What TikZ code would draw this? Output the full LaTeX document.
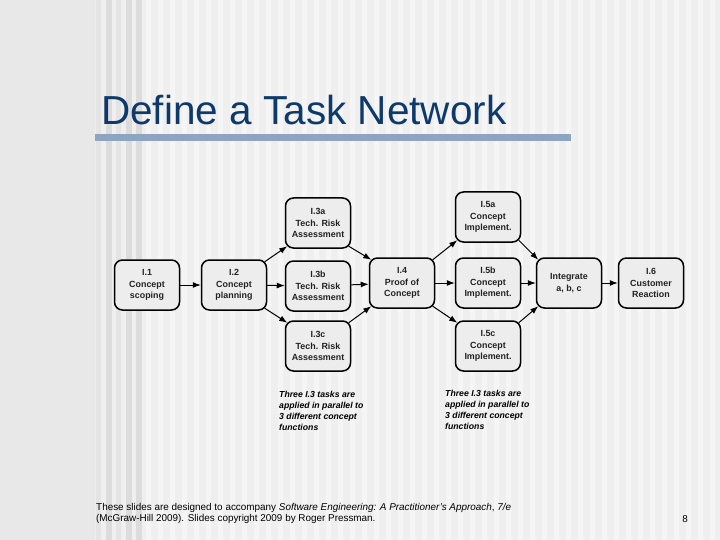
\documentclass[tikz,border=0pt]{standalone}
\usepackage{fontspec}
\setmainfont{Liberation Sans}
\usetikzlibrary{arrows.meta,calc}
\definecolor{bgleft}{HTML}{E8E8E8}
\definecolor{bgmain}{HTML}{EFEFEF}
\definecolor{stripedark}{HTML}{DCDCDC}
\definecolor{stripemid}{HTML}{E4E4E4}
\definecolor{stripelight}{HTML}{F5F5F5}
\definecolor{titleblue}{HTML}{0E3A6B}
\definecolor{barblue}{HTML}{8DA5C1}
\definecolor{boxfill}{HTML}{EDEDED}
\definecolor{boxtext}{HTML}{222222}
\tikzset{
  task/.style={draw=black, line width=1.5pt, rounded corners=8pt, fill=boxfill,
    minimum width=65pt, minimum height=50pt, inner sep=0pt, align=center,
    text=boxtext, font=\fontsize{8.9}{11.5}\selectfont\bfseries},
  conn/.style={line width=1pt, -{Latex[length=8pt,width=6pt]}},
  note/.style={anchor=north west, align=left, inner sep=0pt,
    font=\fontsize{8.7}{11}\selectfont\bfseries\itshape},
}
\begin{document}
\begin{tikzpicture}[x=1pt,y=-1pt]
\useasboundingbox (0,0) rectangle (720,540);
% background
\fill[bgleft] (0,0) rectangle (95,540);
\fill[bgmain] (95,0) rectangle (720,540);
\foreach \a/\b in {96/101,116/121}{\fill[stripemid] (\a,0) rectangle (\b,540);}
\foreach \a/\b in {106/112,126/132,136/142}{\fill[stripedark] (\a,0) rectangle (\b,540);}
\foreach \a in {146,158,...,715}{\fill[stripelight] (\a,0) rectangle (\a+5,540);}
% title
\node[anchor=base west, inner sep=0pt, text=titleblue, font=\fontsize{40.5}{40.5}\selectfont] (title) at (101,125) {Define a Task Network};
\fill[barblue] (95,134) rectangle (571,141);
% tasks
\node[task] (t1) at (147,285) {I.1\\Concept\\scoping};
\node[task] (t2) at (234,285) {I.2\\Concept\\planning};
\node[task] (t3a) at (318,223) {I.3a\\Tech. Risk\\Assessment};
\node[task] (t3b) at (318,286) {I.3b\\Tech. Risk\\Assessment};
\node[task] (t3c) at (318,346) {I.3c\\Tech. Risk\\Assessment};
\node[task] (t4) at (402,283) {I.4\\Proof of\\Concept};
\node[task] (t5a) at (488,217) {I.5a\\Concept\\Implement.};
\node[task] (t5b) at (488,283) {I.5b\\Concept\\Implement.};
\node[task] (t5c) at (488,346) {I.5c\\Concept\\Implement.};
\node[task] (ti) at (569,283) {Integrate\\a, b, c};
\node[task] (t6) at (651,283) {I.6\\Customer\\Reaction};
% connectors
\draw[conn] (t1) -- (t2);
\draw[conn] (t2) -- (t3b);
\draw[conn] (t3b) -- (t4);
\draw[conn] (t4) -- (t5b);
\draw[conn] (t5b) -- (ti);
\draw[conn] (ti) -- (t6);
\draw[conn] ($(t2.north east)+(-2.5,2.5)$) -- ($(t3a.south west)+(2.5,-2.5)$);
\draw[conn] ($(t2.south east)+(-2.5,-2.5)$) -- ($(t3c.north west)+(2.5,2.5)$);
\draw[conn] ($(t3a.south east)+(-2.5,-2.5)$) -- ($(t4.north west)+(2.5,2.5)$);
\draw[conn] ($(t3c.north east)+(-2.5,2.5)$) -- ($(t4.south west)+(2.5,-2.5)$);
\draw[conn] ($(t4.north east)+(-2.5,2.5)$) -- ($(t5a.south west)+(2.5,-2.5)$);
\draw[conn] ($(t4.south east)+(-2.5,-2.5)$) -- ($(t5c.north west)+(2.5,2.5)$);
\draw[conn] ($(t5a.south east)+(-2.5,-2.5)$) -- ($(ti.north west)+(2.5,2.5)$);
\draw[conn] ($(t5c.north east)+(-2.5,2.5)$) -- ($(ti.south west)+(2.5,-2.5)$);
% notes
\node[note] (n1) at (279,391) {Three I.3 tasks are\\applied in parallel to\\3 different concept\\functions};
\node[note] (n2) at (445,390) {Three I.3 tasks are\\applied in parallel to\\3 different concept\\functions};
% footer
\node[anchor=north west, align=left, inner sep=0pt, font=\fontsize{9.9}{11.5}\selectfont] (foot) at (96,503) {These slides are designed to accompany \textit{Software Engineering: A Practitioner's Approach}, \textit{7/e}\\(McGraw-Hill 2009). Slides copyright 2009 by Roger Pressman.};
\node[anchor=base, inner sep=0pt, font=\fontsize{9.9}{11.5}\selectfont] (pg) at (685,522) {8};
\end{tikzpicture}
\end{document}
